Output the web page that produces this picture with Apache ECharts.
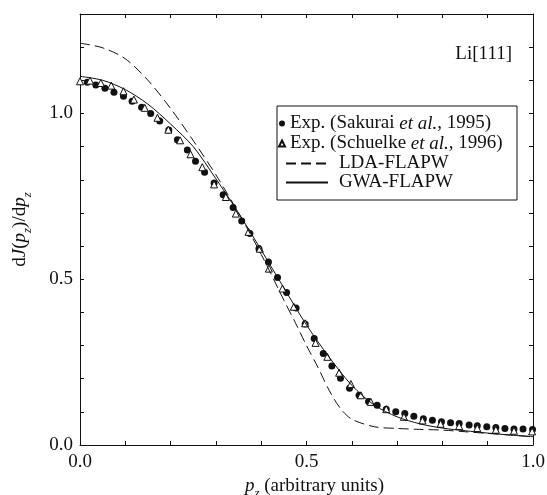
<!DOCTYPE html>
<html>
<head>
<meta charset="utf-8">
<script src="https://cdn.jsdelivr.net/npm/echarts@6/dist/echarts.min.js"></script>
<style>
  html, body { margin: 0; padding: 0; background: #fff; }
  #chart { width: 547px; height: 495px; }
</style>
</head>
<body>
<div id="chart"></div>
<script>
// Li[111] Compton profile: experiment vs. LDA / GWA calculations

var gridX = [0.00, 0.05, 0.10, 0.15, 0.20, 0.25, 0.30, 0.35, 0.40, 0.45,
             0.50, 0.55, 0.60, 0.65, 0.70, 0.75, 0.80, 0.85, 0.90, 0.95, 1.00];

var gwaY = [1.112, 1.100, 1.072, 1.028, 0.968, 0.900, 0.803, 0.700, 0.588, 0.474,
            0.362, 0.265, 0.180, 0.120, 0.085, 0.064, 0.051, 0.043, 0.036, 0.030, 0.025];

var ldaX = [0.00, 0.05, 0.10, 0.15, 0.20, 0.25, 0.30, 0.35, 0.40, 0.45, 0.475,
            0.50, 0.525, 0.55, 0.575, 0.60, 0.65, 0.70, 0.75, 0.80, 0.85, 0.90, 0.95, 1.00];
var ldaY = [1.212, 1.198, 1.165, 1.100, 1.015, 0.918, 0.815, 0.700, 0.575, 0.437, 0.370,
            0.300, 0.235, 0.165, 0.110, 0.078, 0.055, 0.050, 0.047, 0.045, 0.040, 0.035, 0.030, 0.025];

var sakuraiX = [0.016, 0.035, 0.055, 0.075, 0.096, 0.115, 0.136, 0.156, 0.176, 0.196,
                0.215, 0.237, 0.255, 0.275, 0.296, 0.316, 0.338, 0.357, 0.375, 0.395,
                0.416, 0.436, 0.456, 0.477, 0.497, 0.517, 0.537, 0.556, 0.575, 0.595,
                0.616, 0.637, 0.656, 0.676, 0.697, 0.717, 0.737, 0.758, 0.778, 0.798,
                0.818, 0.837, 0.859, 0.877, 0.898, 0.918, 0.938, 0.958, 0.978, 0.999];
var sakuraiY = [1.094, 1.086, 1.076, 1.064, 1.052, 1.037, 1.019, 1.000, 0.977, 0.950,
                0.921, 0.890, 0.856, 0.823, 0.790, 0.755, 0.716, 0.676, 0.638, 0.592,
                0.552, 0.505, 0.460, 0.413, 0.365, 0.321, 0.276, 0.238, 0.201, 0.171,
                0.150, 0.131, 0.120, 0.108, 0.100, 0.095, 0.087, 0.079, 0.075, 0.070,
                0.067, 0.065, 0.060, 0.058, 0.055, 0.053, 0.050, 0.048, 0.048, 0.047];

var schuelkeX = [0.000, 0.022, 0.046, 0.069, 0.096, 0.119, 0.143, 0.171, 0.195, 0.221,
                 0.244, 0.270, 0.296, 0.322, 0.344, 0.372, 0.397, 0.417, 0.447, 0.472,
                 0.497, 0.520, 0.546, 0.572, 0.598, 0.620, 0.642, 0.676, 0.715, 0.756,
                 0.796, 0.837, 0.877, 0.918, 0.958, 0.998];
var schuelkeY = [1.097, 1.099, 1.092, 1.084, 1.067, 1.042, 1.017, 0.987, 0.951, 0.919,
                 0.877, 0.838, 0.786, 0.748, 0.698, 0.643, 0.592, 0.532, 0.472, 0.417,
                 0.367, 0.308, 0.266, 0.218, 0.184, 0.150, 0.130, 0.108, 0.085, 0.074,
                 0.064, 0.057, 0.051, 0.046, 0.043, 0.041];

var seriesNames = ['Sakurai', 'Schuelke', 'LDA-FLAPW', 'GWA-FLAPW'];
var legendText = {
  'Sakurai': '{r|Exp. (Sakurai }{i|et al.}{r|, 1995)}',
  'Schuelke': '{r|Exp. (Schuelke }{i|et al.}{r|, 1996)}',
  'LDA-FLAPW': '{r|LDA-FLAPW}',
  'GWA-FLAPW': '{r|GWA-FLAPW}'
};

function pairs(xs, ys) {
  var out = [];
  for (var i = 0; i < xs.length; i++) out.push([xs[i], ys[i]]);
  return out;
}

var FONT = '"Liberation Serif", "DejaVu Serif", serif';
var INK = '#111';

var rich = {
  r: { fontFamily: FONT, fontSize: 19, color: INK, lineHeight: 28 },
  i: { fontFamily: FONT, fontSize: 19, color: INK, fontStyle: 'italic', lineHeight: 28 },
  s: { fontFamily: FONT, fontSize: 13, color: INK, fontStyle: 'italic', verticalAlign: 'bottom' }
};
var legendRich = {
  r: { fontFamily: FONT, fontSize: 19, color: INK, lineHeight: 20 },
  i: { fontFamily: FONT, fontSize: 19, color: INK, fontStyle: 'italic', lineHeight: 20 }
};

function tickLabel(v) {
  var k = Math.round(v * 10);
  return k % 5 === 0 ? (k / 10).toFixed(1) : '';
}

function axisBase(extra) {
  var ax = {
    type: 'value',
    min: 0,
    interval: 0.1,
    axisLine: { show: true, onZero: false, lineStyle: { color: INK, width: 1 } },
    axisTick: { show: true, inside: true, length: 4, lineStyle: { color: INK } },
    splitLine: { show: false },
    axisLabel: { show: false }
  };
  for (var k in extra) ax[k] = extra[k];
  return ax;
}

var labelStyle = {
  show: true,
  formatter: tickLabel,
  fontFamily: FONT,
  fontSize: 19,
  color: INK,
  showMinLabel: true,
  showMaxLabel: true
};

var chart = echarts.init(document.getElementById('chart'));
chart.setOption({
  backgroundColor: '#fff',
  animation: false,
  grid: { left: 80, right: 14, top: 14, bottom: 50, containLabel: false, outerBoundsMode: 'none' },
  title: {
    text: 'Li[111]',
    right: 35,
    top: 45,
    padding: 0,
    textStyle: { fontFamily: FONT, fontSize: 19, fontWeight: 'normal', color: INK }
  },
  xAxis: [
    axisBase({
      position: 'bottom', max: 1.0,
      axisLabel: Object.assign({ margin: 8 }, labelStyle),
      name: '{i|p}{s|z}{r| (arbitrary units)}',
      nameLocation: 'middle',
      nameGap: 27,
      nameTextStyle: { rich: rich, padding: [0, 0, 0, 16] }
    }),
    axisBase({ position: 'top', max: 1.0 })
  ],
  yAxis: [
    axisBase({
      position: 'left', max: 1.3,
      axisLabel: Object.assign({ margin: 7 }, labelStyle),
      name: '{r|d}{i|J}{r|(}{i|p}{s|z}{r|)/d}{i|p}{s|z}',
      nameLocation: 'middle',
      nameRotate: 90,
      nameGap: 46,
      nameTextStyle: { rich: rich }
    }),
    axisBase({ position: 'right', max: 1.3 })
  ],
  legend: [
    {
      data: seriesNames.slice(0, 2),
      orient: 'vertical',
      left: 278,
      top: 114,
      padding: 0,
      itemGap: 1,
      itemWidth: 6,
      itemHeight: 6,
      formatter: function (name) { return legendText[name]; },
      textStyle: { rich: legendRich }
    },
    {
      data: seriesNames.slice(2),
      orient: 'vertical',
      left: 285,
      top: 154,
      padding: 0,
      itemGap: 0,
      itemWidth: 42,
      itemHeight: 10,
      itemStyle: { opacity: 0 },
      formatter: function (name) { return legendText[name]; },
      textStyle: { rich: legendRich, padding: [0, 0, 0, 6] }
    }
  ],
  graphic: [{
    type: 'rect',
    z: 3,
    shape: { x: 277, y: 106, width: 240, height: 94 },
    style: { fill: 'transparent', stroke: INK, lineWidth: 1 }
  }],
  series: [
    {
      name: 'Sakurai',
      type: 'scatter',
      data: pairs(sakuraiX, sakuraiY),
      symbol: 'circle',
      symbolSize: 7,
      itemStyle: { color: INK, opacity: 1 }
    },
    {
      name: 'Schuelke',
      type: 'scatter',
      data: pairs(schuelkeX, schuelkeY),
      symbol: 'triangle',
      symbolSize: 7,
      itemStyle: { color: '#fff', borderColor: INK, borderWidth: 1, opacity: 1 }
    },
    {
      name: 'LDA-FLAPW',
      type: 'line',
      data: pairs(ldaX, ldaY),
      smooth: 0.3,
      symbol: 'none',
      lineStyle: { color: INK, width: 1, type: [10, 5] },
      itemStyle: { color: INK }
    },
    {
      name: 'GWA-FLAPW',
      type: 'line',
      data: pairs(gridX, gwaY),
      smooth: 0.3,
      symbol: 'none',
      lineStyle: { color: INK, width: 1 },
      itemStyle: { color: INK }
    }
  ]
});
</script>
</body>
</html>
